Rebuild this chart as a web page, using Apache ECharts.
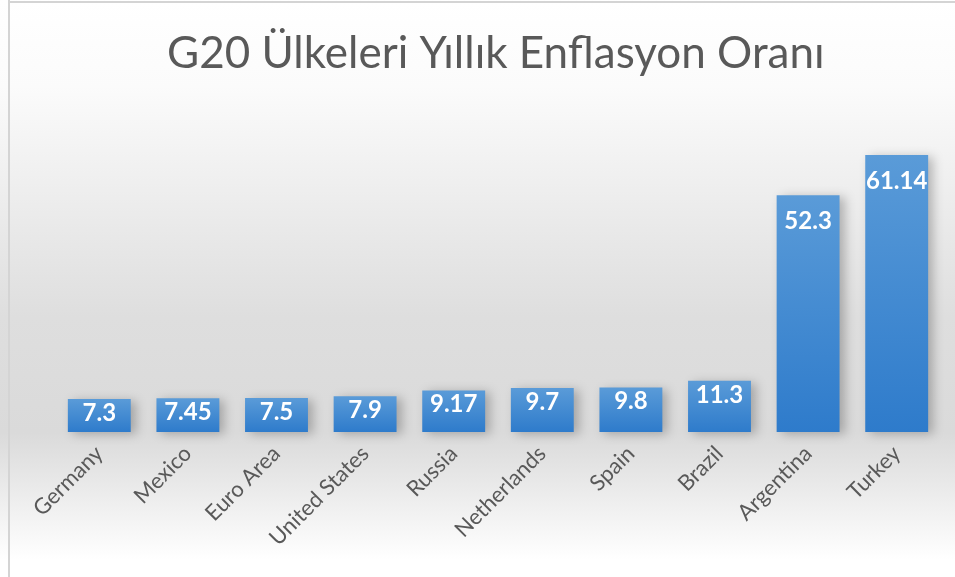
<!DOCTYPE html>
<html>
<head>
<meta charset="utf-8">
<script src="https://cdn.jsdelivr.net/npm/echarts@6/dist/echarts.min.js"></script>
<style>
html, body { margin: 0; padding: 0; background: #fff; }
#main { width: 955px; height: 577px; }
</style>
</head>
<body>
<div id="main"></div>
<script>
var categories = ['Germany', 'Mexico', 'Euro Area', 'United States', 'Russia', 'Netherlands', 'Spain', 'Brazil', 'Argentina', 'Turkey'];
var inflation = [7.3, 7.45, 7.5, 7.9, 9.17, 9.7, 9.8, 11.3, 52.3, 61.14];
var titleText = 'G20 Ülkeleri Yıllık Enflasyon Oranı';

// tall bars get their label pushed a bit further down, like the original
var barData = inflation.map(function (v) {
    return {value: v, label: {distance: v > 30 ? 14 : 2}};
});

var chart = echarts.init(document.getElementById('main'));
chart.setOption({
    animation: false,
    backgroundColor: {
        type: 'linear', x: 0, y: 0, x2: 0, y2: 1,
        colorStops: [
            {offset: 0, color: '#ffffff'},
            {offset: 0.15, color: '#fbfbfb'},
            {offset: 0.55, color: '#dedede'},
            {offset: 0.75, color: '#dadada'},
            {offset: 0.97, color: '#ffffff'},
            {offset: 1, color: '#ffffff'}
        ]
    },
    graphic: [
        {type: 'line', shape: {x1: 9, y1: 0, x2: 9, y2: 577}, style: {stroke: '#d4d4d4', lineWidth: 2}},
        {type: 'line', shape: {x1: 9, y1: 2, x2: 955, y2: 2}, style: {stroke: '#d4d4d4', lineWidth: 2}}
    ],
    title: {
        text: titleText,
        left: 162,
        top: 27,
        textStyle: {fontFamily: 'Lato', fontWeight: 'normal', fontSize: 44, color: '#595959'}
    },
    grid: {left: 55, right: 14, top: 115, bottom: 145},
    xAxis: {
        type: 'category',
        data: categories,
        axisLine: {show: false},
        axisTick: {show: false},
        axisLabel: {
            rotate: 45,
            interval: 0,
            margin: 18,
            fontFamily: 'Lato',
            fontSize: 22,
            color: '#595959'
        }
    },
    yAxis: {
        type: 'value',
        min: 0,
        max: 70,
        show: false,
        splitLine: {show: false}
    },
    series: [{
        type: 'bar',
        data: barData,
        barCategoryGap: '29%',
        itemStyle: {
            color: {
                type: 'linear', x: 0, y: 0, x2: 0, y2: 1,
                colorStops: [
                    {offset: 0, color: '#5a9bd8'},
                    {offset: 1, color: '#2e7bcb'}
                ]
            },
            shadowColor: 'rgba(0,0,0,0.25)',
            shadowBlur: 10,
            shadowOffsetX: 5,
            shadowOffsetY: 2
        },
        label: {
            show: true,
            position: 'insideTop',
            fontFamily: 'Lato',
            fontWeight: 'bold',
            fontSize: 24,
            color: '#ffffff'
        }
    }]
});
</script>
</body>
</html>
